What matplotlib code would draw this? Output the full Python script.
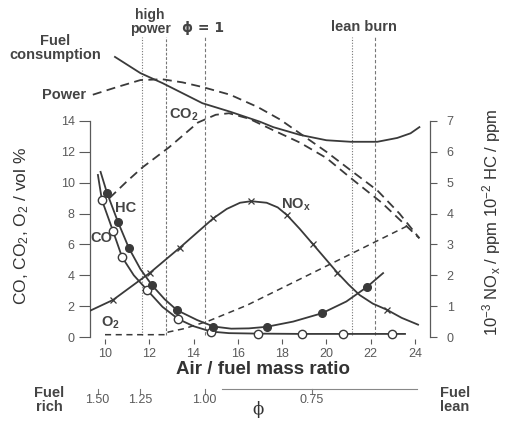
import matplotlib
matplotlib.use('Agg')
import matplotlib.pyplot as plt

plt.rcParams['font.family'] = ['Liberation Sans', 'DejaVu Sans']
plt.rcParams['mathtext.default'] = 'regular'

# ---------------- data ----------------
# Fuel consumption (arbitrary units, drawn on left scale)
fuel_af = [10.45, 11.6, 12.6, 13.5, 14.4, 15.65, 17.0, 17.6, 18.8, 20.0, 21.1, 22.3, 23.2, 23.8, 24.2]
fuel_val = [18.15, 17.1, 16.45, 15.8, 15.15, 14.6, 13.95, 13.6, 13.1, 12.75, 12.65, 12.65, 12.9, 13.2, 13.6]

# Power (arbitrary units, left scale)
power_af = [9.45, 10.55, 11.6, 12.6, 13.5, 14.4, 15.65, 16.9, 17.9, 18.8, 20.0, 21.1, 22.3, 23.3, 24.2]
power_val = [15.7, 16.2, 16.65, 16.7, 16.5, 16.2, 15.7, 14.9, 14.1, 13.2, 12.0, 10.8, 9.5, 8.0, 6.4]

# CO2 vol % (left)
co2_af = [10.2, 11.0, 11.7, 12.9, 14.2, 15.0, 15.6, 16.5, 17.6, 18.8, 20.0, 21.1, 22.5, 24.2]
co2_val = [9.0, 10.1, 11.0, 12.3, 13.9, 14.4, 14.5, 14.15, 13.4, 12.6, 11.6, 10.3, 8.7, 6.4]

# O2 vol % (left)
o2_af = [10.0, 12.8, 12.85, 13.6, 14.7, 16.4, 19.3, 23.8]
o2_val = [0.15, 0.15, 0.32, 0.55, 1.05, 2.05, 4.1, 7.3]

# CO vol % (left), open circles
co_af = [9.68, 9.86, 10.36, 10.77, 11.3, 11.9, 12.6, 13.3, 14.0, 14.8, 15.6, 16.9, 18.9, 20.75, 22.96, 23.55]
co_val = [10.5, 8.88, 6.87, 5.18, 4.0, 3.05, 1.95, 1.17, 0.7, 0.35, 0.25, 0.22, 0.2, 0.2, 0.2, 0.2]
co_marks = [1, 2, 3, 5, 7, 9, 11, 12, 13, 14]

# HC 10^-2 ppm (right), filled circles
hc_af = [9.8, 10.09, 10.59, 11.08, 11.6, 12.12, 12.7, 13.25, 14.16, 14.9, 15.7, 16.5, 17.3, 18.5,
         19.8, 20.9, 21.83, 22.56]
hc_val = [5.35, 4.67, 3.72, 2.88, 2.2, 1.68, 1.22, 0.87, 0.55, 0.34, 0.27, 0.28, 0.33, 0.5,
          0.77, 1.15, 1.62, 2.07]
hc_marks = [1, 2, 3, 5, 7, 9, 12, 14, 16]

# NOx 10^-3 ppm (right)
nox_af = [9.32, 10.36, 12.03, 13.39, 14.9, 15.5, 16.1, 16.6, 17.3, 17.8, 18.22, 18.8, 19.4, 20.5,
          21.0, 21.5, 22.1, 22.74, 23.4, 24.14]
nox_val = [0.85, 1.2, 2.08, 2.9, 3.85, 4.15, 4.35, 4.4, 4.35, 4.2, 3.95, 3.5, 3.0, 2.08,
           1.7, 1.36, 1.08, 0.88, 0.62, 0.4]
nox_marks = [1, 2, 3, 4, 7, 10, 12, 13, 17]

# vertical reference lines
vline_af = [11.65, 12.75, 14.5, 21.15, 22.2]
vline_style = [(0, (1, 1.5)), (0, (2.5, 1.5)), (0, (3, 2)), (0, (1, 1.5)), (0, (3, 2))]

# phi scale
phi_ticks = [1.50, 1.25, 1.00, 0.75]
phi_labels = ['1.50', '1.25', '1.00', '0.75']
stoich_af = 14.5
phi_line_af = [15.3, 24.1]

x_ticks = [10, 12, 14, 16, 18, 20, 22, 24]
left_ticks = [0, 2, 4, 6, 8, 10, 12, 14]
right_ticks = [0, 1, 2, 3, 4, 5, 6, 7]

# ---------------- figure ----------------
W, H = 505, 430
fig = plt.figure(figsize=(W / 100, H / 100), dpi=100)
fig.patch.set_facecolor('white')


def fx(px):
    return px / W


def fy(py):
    return 1 - py / H


LC = '#3a3a3a'
TC = '#5a5a5a'

ax = fig.add_axes([fx(90), fy(345), (430 - 90) / W, (345 - 10) / H])
ax.set_xlim(9.3225, 24.679)
ax.set_ylim(-0.518, 21.19)
ax.patch.set_visible(False)
ax2 = ax.twinx()
ax2.set_ylim(-0.259, 10.595)

for s in ['top', 'right']:
    ax.spines[s].set_visible(False)
ax.spines['bottom'].set_position(('data', -0.1))
ax.spines['bottom'].set_visible(False)
ax.spines['left'].set_bounds(0, 14)
ax.spines['left'].set_color(TC)
ax.spines['left'].set_linewidth(0.9)
for s in ['top', 'left', 'bottom']:
    ax2.spines[s].set_visible(False)
ax2.spines['right'].set_bounds(0, 7)
ax2.spines['right'].set_color(TC)
ax2.spines['right'].set_linewidth(0.9)

ax.set_xticks(x_ticks)
ax.set_yticks(left_ticks)
ax2.set_yticks(right_ticks)
ax.tick_params(axis='x', direction='out', length=3.5, width=0.8, pad=3,
               labelsize=9, color=TC, labelcolor=TC)
ax.tick_params(axis='y', direction='out', length=8, width=0.8, pad=3,
               labelsize=9, color=TC, labelcolor=TC)
ax2.tick_params(axis='y', direction='out', length=5, width=0.8, pad=7,
                labelsize=9, color=TC, labelcolor=TC)

# vertical reference lines
for xv, ls in zip(vline_af, vline_style):
    ax.plot([xv, xv], [0.15, 19.45], color='#777777', lw=0.8, ls=ls, zorder=1)

# curves
ax.plot(fuel_af, fuel_val, color=LC, lw=1.3, zorder=3)
ax.plot(power_af, power_val, color=LC, lw=1.3, ls=(0, (5, 3)), zorder=3)
ax.plot(co2_af, co2_val, color=LC, lw=1.3, ls=(0, (5, 3)), zorder=3)
ax.plot(o2_af, o2_val, color=LC, lw=1.1, ls=(0, (4, 3)), zorder=3)
ax.plot(co_af, co_val, color=LC, lw=1.3, zorder=4,
        marker='o', markevery=co_marks, markersize=6,
        markerfacecolor='white', markeredgecolor=LC, markeredgewidth=1.0)
ax2.plot(hc_af, hc_val, color=LC, lw=1.3, zorder=4,
         marker='o', markevery=hc_marks, markersize=5.5,
         markerfacecolor=LC, markeredgecolor=LC)
ax2.plot(nox_af, nox_val, color=LC, lw=1.3, zorder=4,
         marker='x', markevery=nox_marks, markersize=4,
         markeredgewidth=0.9, markeredgecolor=LC)

# ---------------- text ----------------
bold = dict(fontweight='bold', color='#444444')
fig.text(fx(150), fy(22), 'high\npower', ha='center', va='center', fontsize=10, linespacing=1.0, **bold)
fig.text(fx(203), fy(28), '\u03d5 = 1', ha='center', va='center', fontsize=10,
         family=['DejaVu Sans'], **bold)
fig.text(fx(364), fy(27), 'lean burn', ha='center', va='center', fontsize=10.5, **bold)
fig.text(fx(55), fy(48), 'Fuel\nconsumption', ha='center', va='center', fontsize=10.5,
         linespacing=1.0, **bold)
fig.text(fx(86), fy(95), 'Power', ha='right', va='center', fontsize=10.5, **bold)
fig.text(fx(184), fy(115), 'CO$_2$', ha='center', va='center', fontsize=10.5, **bold)
fig.text(fx(126), fy(208), 'HC', ha='center', va='center', fontsize=10.5, **bold)
fig.text(fx(101), fy(238), 'CO', ha='center', va='center', fontsize=10.5, **bold)
fig.text(fx(296), fy(205), 'NO$_x$', ha='center', va='center', fontsize=10.5, **bold)
fig.text(fx(110), fy(323), 'O$_2$', ha='center', va='center', fontsize=10.5, **bold)

fig.text(fx(22), fy(226), 'CO, CO$_2$, O$_2$ / vol %', rotation=90, ha='center', va='center',
         fontsize=12.5, color='#333333')
fig.text(fx(492), fy(222), '10$^{-3}$ NO$_x$ / ppm 10$^{-2}$ HC / ppm', rotation=90,
         ha='center', va='center', fontsize=12, color='#333333')
fig.text(fx(263), fy(370), 'Air / fuel mass ratio', ha='center', va='center',
         fontsize=13.5, fontweight='bold', color='#333333')

# phi scale
axp = fig.add_axes([fx(90), fy(412), (430 - 90) / W, (412 - 384) / H])
axp.set_xlim(ax.get_xlim())
axp.set_ylim(412, 384)
axp.axis('off')
for ph, lab in zip(phi_ticks, phi_labels):
    xa = stoich_af / ph
    axp.plot([xa, xa], [389, 394], color='#777777', lw=0.8)
    axp.text(xa, 400, lab, ha='center', va='center', fontsize=9, color=TC)
axp.plot(phi_line_af, [389, 389], color='#888888', lw=0.8)

fig.text(fx(49), fy(400), 'Fuel\nrich', ha='center', va='center', fontsize=10.5,
         linespacing=1.0, **bold)
fig.text(fx(455), fy(400), 'Fuel\nlean', ha='center', va='center', fontsize=10.5,
         linespacing=1.0, **bold)
fig.text(fx(258), fy(410), '\u03d5', ha='center', va='center', fontsize=12,
         family=['DejaVu Serif'], color='#333333')

fig.savefig('out.png', dpi=100, facecolor='white')
